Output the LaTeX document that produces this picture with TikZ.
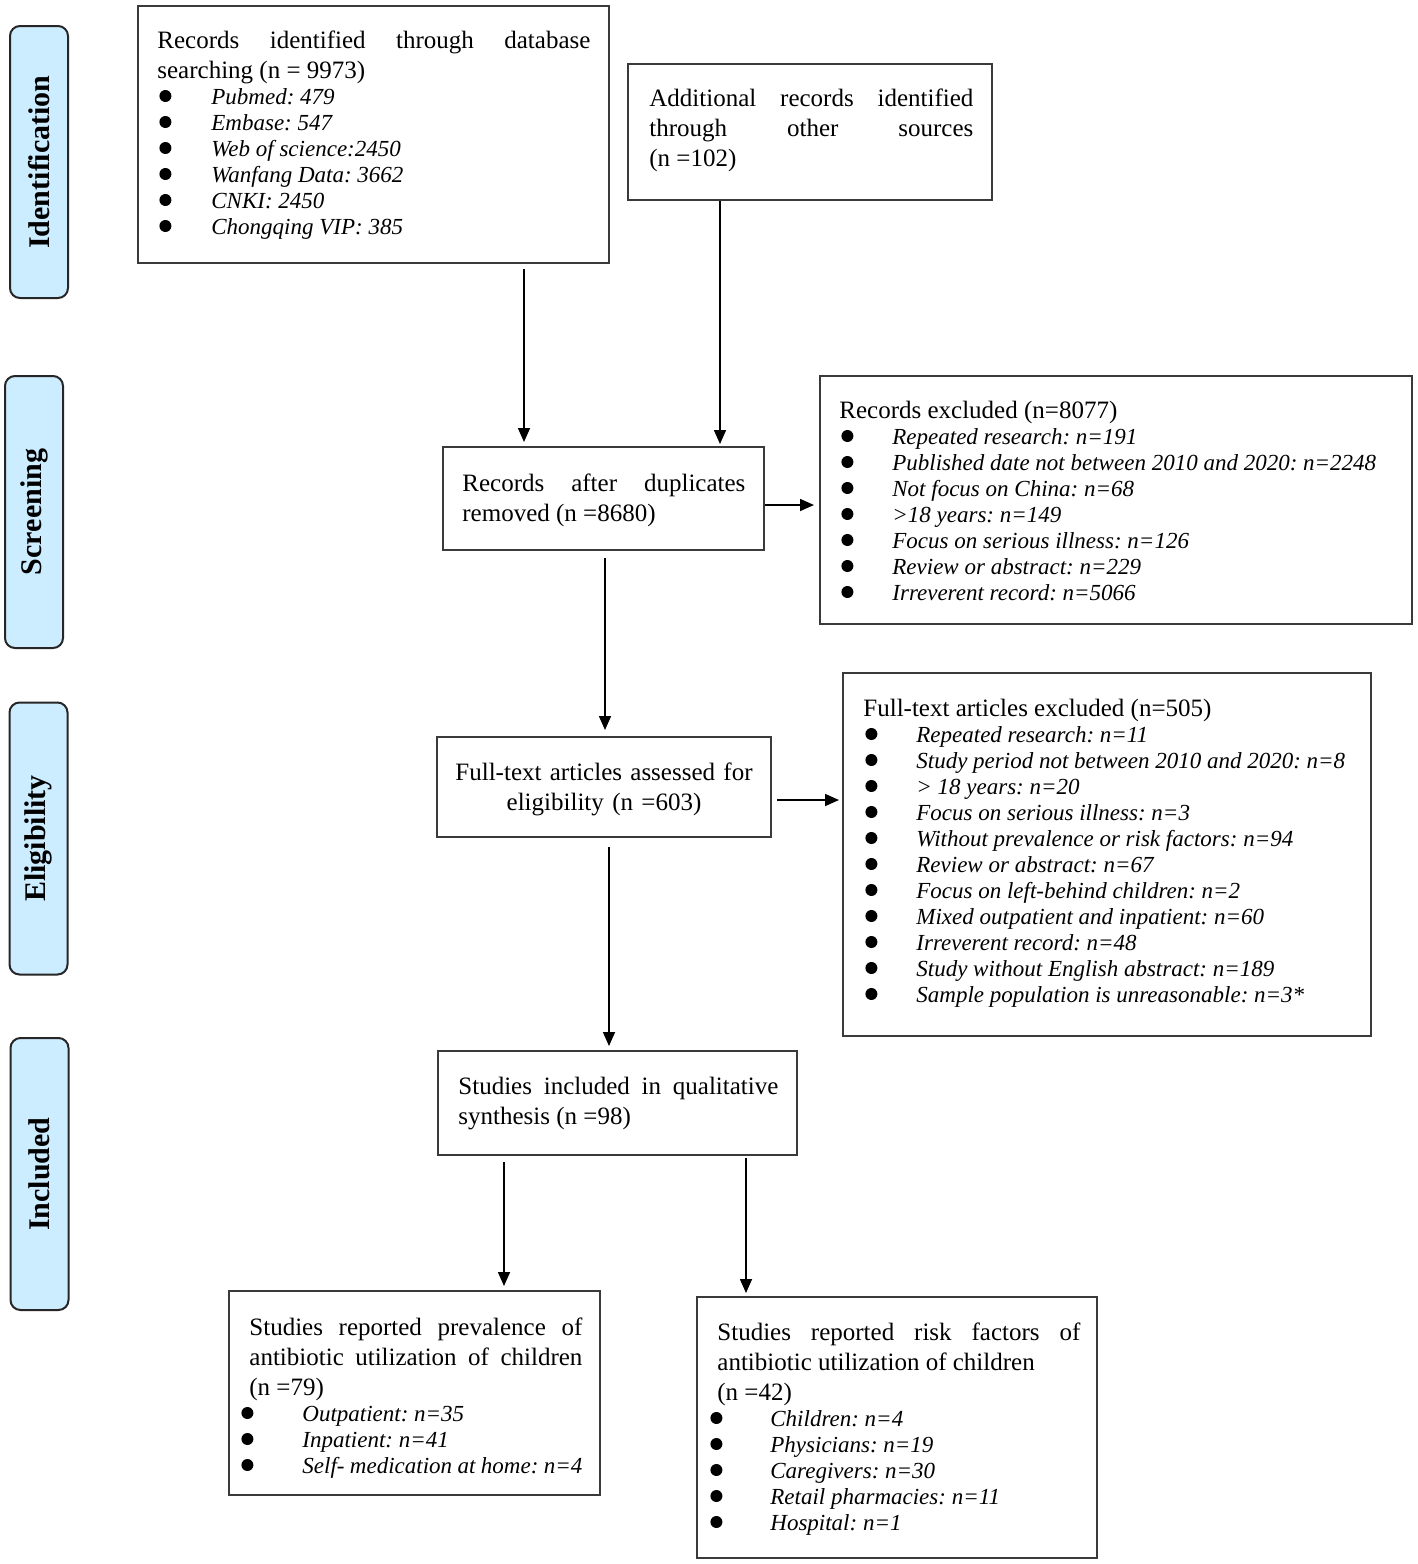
\documentclass[tikz,border=0pt]{standalone}
\usepackage{fontspec}
\setmainfont{Liberation Serif}
\usetikzlibrary{arrows.meta,fit}
\definecolor{labfill}{RGB}{204,236,255}
\definecolor{boxline}{RGB}{58,58,58}
\newcommand\mainf{\fontsize{12.5}{15}\selectfont\frenchspacing}
\newcommand\listf{\fontsize{11.5}{13}\selectfont\frenchspacing}
\newcommand\bul{\tikz[baseline={(0pt,-4pt)},x=1pt,y=1pt]\fill[black] (0,0) circle (3pt);}
\newcommand\itm[3]{\par{\listf\noindent\hspace*{#1}\makebox[0pt]{\bul}\hspace*{#2}\textit{#3}\par}}
\begin{document}
\begin{tikzpicture}[x=0.5pt,y=-0.5pt,
  box/.style={draw=boxline, line width=1pt, inner sep=0pt},
  txt/.style={inner sep=0pt, anchor=base west, align=justify, font=\mainf},
  lab/.style={draw=black!85, line width=1pt, fill=labfill, rounded corners=5pt, rotate=90,
    minimum width=136pt, minimum height=29pt, inner sep=0pt, font=\fontsize{15}{18}\selectfont\bfseries},
  arr/.style={-{Triangle[length=7pt,width=6pt]}, line width=0.8pt, black}]
\useasboundingbox (0,0) rectangle (1418,1564);
\fill[white] (0,0) rectangle (1418,1564);

% side labels
\node[lab] (lid) at (39,162) {Identification};
\node[lab] (lsc) at (34,512) {Screening};
\node[lab] (lel) at (38.5,838.5) {Eligibility};
\node[lab] (lin) at (39.5,1174) {Included};

% boxes
\node[box, fit={(138,6) (609,263)}] (b1) {};
\node[box, fit={(628,64) (992,200)}] (b2) {};
\node[box, fit={(443,447) (764,550)}] (b3) {};
\node[box, fit={(820,376) (1412,624)}] (re) {};
\node[box, fit={(437,737) (771,837)}] (fa) {};
\node[box, fit={(843,673) (1371,1036)}] (fe) {};
\node[box, fit={(438,1051) (797,1155)}] (si) {};
\node[box, fit={(229,1291) (600,1495)}] (pr) {};
\node[box, fit={(697,1297) (1097,1558)}] (rf) {};

% texts
\node[txt, text width=216.5pt] (t1) at (157,48) {Records identified through database\linebreak searching (n = 9973)\par
\itm{4pt}{23pt}{Pubmed: 479}
\itm{4pt}{23pt}{Embase: 547}
\itm{4pt}{23pt}{Web of science:2450}
\itm{4pt}{23pt}{Wanfang Data: 3662}
\itm{4pt}{23pt}{CNKI: 2450}
\itm{4pt}{23pt}{Chongqing VIP: 385}};

\node[txt, text width=162pt] (t2) at (649,106) {Additional records identified\linebreak through other sources\linebreak (n =102)};

\node[txt, text width=141.5pt] (t3) at (462,491) {Records after duplicates\linebreak removed (n =8680)};

\node[txt, text width=277pt] (tre) at (839,418) {Records excluded (n=8077)\par
\itm{4pt}{22.5pt}{Repeated research: n=191}
\itm{4pt}{22.5pt}{Published date not between 2010 and 2020: n=2248}
\itm{4pt}{22.5pt}{Not focus on China: n=68}
\itm{4pt}{22.5pt}{>18 years: n=149}
\itm{4pt}{22.5pt}{Focus on serious illness: n=126}
\itm{4pt}{22.5pt}{Review or abstract: n=229}
\itm{4pt}{22.5pt}{Irreverent record: n=5066}};

\node[inner sep=0pt, anchor=base, align=center, text width=155pt, font=\mainf] (tfa) at (604,780) {Full-text articles assessed for\\eligibility (n =603)};

\node[txt, text width=244pt] (tfe) at (863,716) {Full-text articles excluded (n=505)\par
\itm{4pt}{22.5pt}{Repeated research: n=11}
\itm{4pt}{22.5pt}{Study period not between 2010 and 2020: n=8}
\itm{4pt}{22.5pt}{> 18 years: n=20}
\itm{4pt}{22.5pt}{Focus on serious illness: n=3}
\itm{4pt}{22.5pt}{Without prevalence or risk factors: n=94}
\itm{4pt}{22.5pt}{Review or abstract: n=67}
\itm{4pt}{22.5pt}{Focus on left-behind children: n=2}
\itm{4pt}{22.5pt}{Mixed outpatient and inpatient: n=60}
\itm{4pt}{22.5pt}{Irreverent record: n=48}
\itm{4pt}{22.5pt}{Study without English abstract: n=189}
\itm{4pt}{22.5pt}{Sample population is unreasonable: n=3*}};

\node[txt, text width=160pt] (tsi) at (458,1094) {Studies included in qualitative\linebreak synthesis (n =98)};

\node[txt, text width=166.5pt] (tpr) at (249,1335) {Studies reported prevalence of\linebreak antibiotic utilization of children\linebreak (n =79)\par
\itm{-1pt}{27.5pt}{Outpatient: n=35}
\itm{-1pt}{27.5pt}{Inpatient: n=41}
\itm{-1pt}{27.5pt}{Self- medication at home: n=4}};

\node[txt, text width=181.5pt] (trf) at (717,1340) {Studies reported risk factors of\linebreak antibiotic utilization of children\par (n =42)\par
\itm{-0.5pt}{27pt}{Children: n=4}
\itm{-0.5pt}{27pt}{Physicians: n=19}
\itm{-0.5pt}{27pt}{Caregivers: n=30}
\itm{-0.5pt}{27pt}{Retail pharmacies: n=11}
\itm{-0.5pt}{27pt}{Hospital: n=1}};

% connector guide coordinates
\coordinate (xa) at (524,0);
\coordinate (xb) at (720,0);
\coordinate (yc) at (0,505);
\coordinate (xd) at (605,0);
\coordinate (ye) at (0,800);
\coordinate (xf) at (609,0);
\coordinate (xg) at (504,0);
\coordinate (xh) at (746,0);

% connectors
\draw[arr, shorten <=2.5pt, shorten >=2pt] (b1.south -| xa) -- (b3.north -| xa);
\draw[arr, shorten >=1pt] (b2.south -| xb) -- (b3.north -| xb);
\draw[arr, shorten >=2.5pt] (b3.east |- yc) -- (re.west |- yc);
\draw[arr, shorten <=3.5pt, shorten >=3pt] (b3.south -| xd) -- (fa.north -| xd);
\draw[arr, shorten <=2.5pt, shorten >=1.5pt] (fa.east |- ye) -- (fe.west |- ye);
\draw[arr, shorten <=4.5pt, shorten >=2pt] (fa.south -| xf) -- (si.north -| xf);
\draw[arr, shorten <=3pt, shorten >=2pt] (si.south -| xg) -- (pr.north -| xg);
\draw[arr, shorten <=1pt, shorten >=1.5pt] (si.south -| xh) -- (rf.north -| xh);
\end{tikzpicture}
\end{document}
